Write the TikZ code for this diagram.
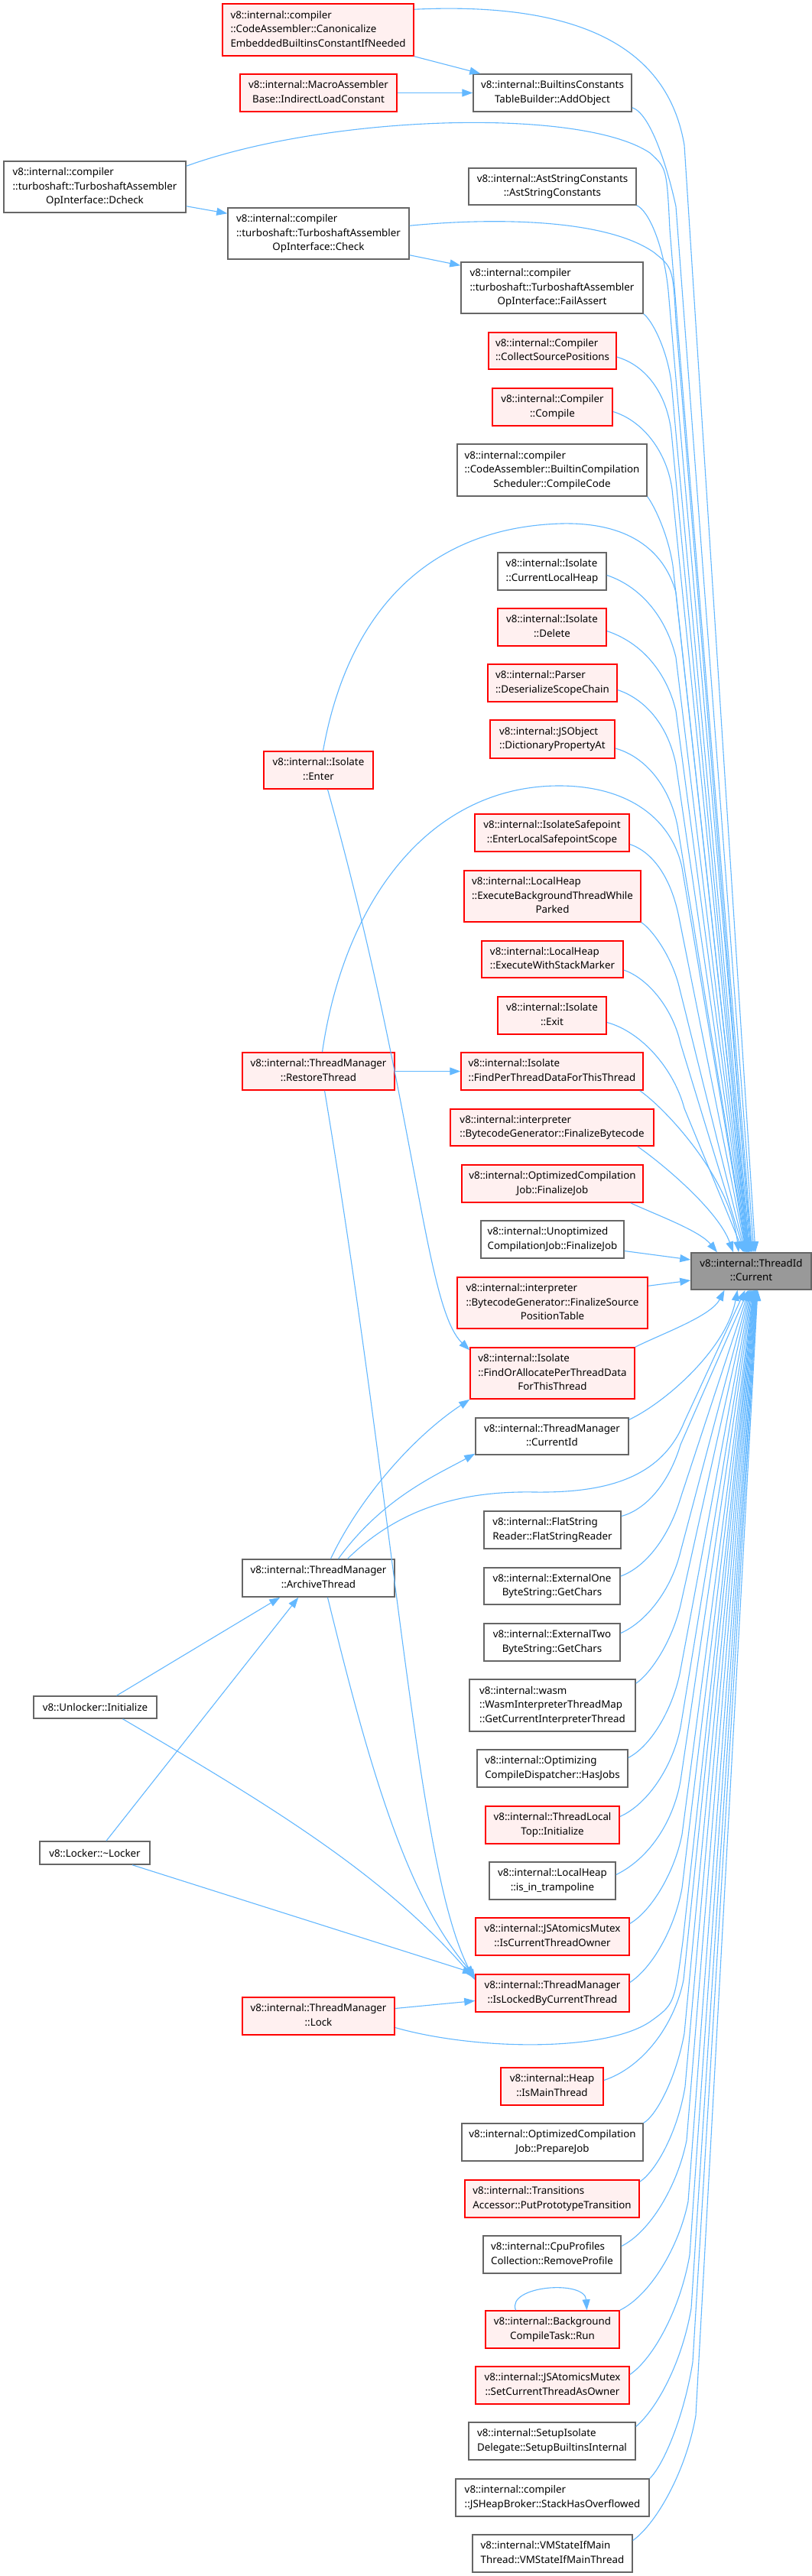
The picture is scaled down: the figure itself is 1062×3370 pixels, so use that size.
\documentclass[tikz,border=0pt]{standalone}
\usepackage{fontspec}
\setmainfont{Noto Sans}
\usetikzlibrary{arrows.meta,calc}
\definecolor{edgeblue}{HTML}{63B8FF}
\definecolor{boxred}{HTML}{FF0000}
\definecolor{boxpink}{HTML}{FFF0F0}
\definecolor{boxgray}{HTML}{666666}
\definecolor{curfill}{HTML}{999999}
\newcommand\ltwo[2]{\begin{tabular}{@{}l@{}}#1\\\multicolumn{1}{@{}c@{}}{#2}\end{tabular}}
\newcommand\lthree[3]{\begin{tabular}{@{}l@{}}#1\\#2\\\multicolumn{1}{@{}c@{}}{#3}\end{tabular}}
\tikzset{
 nbox/.style={draw, line width=1.5pt, inner sep=0pt, font=\fontsize{13.33}{18.5}\selectfont},
 wbox/.style={nbox, draw=boxgray, fill=white},
 rbox/.style={nbox, draw=boxred, fill=boxpink},
 gbox/.style={nbox, draw=boxgray, fill=curfill},
 sz/.style 2 args={minimum width=#1pt, minimum height=#2pt},
 arr/.style={draw=edgeblue, line width=1.1pt, -{Triangle[length=14pt,width=10pt]}},
}
\begin{document}
\begin{tikzpicture}[x=1pt,y=-1pt]
\useasboundingbox (0,0) rectangle (1062,3370);
\fill[white] (0,0) rectangle (1062,3370);
% nodes
\node[rbox, sz={250}{68}] (canon) at (416,39) {\lthree{v8::internal::compiler}{::CodeAssembler::Canonicalize}{EmbeddedBuiltinsConstantIfNeeded}};
\node[rbox, sz={205}{49}] (macro) at (416.5,121.5) {\ltwo{v8::internal::MacroAssembler}{Base::IndirectLoadConstant}};
\node[wbox, sz={207}{49}] (addobj) at (722.5,121.5) {\ltwo{v8::internal::BuiltinsConstants}{TableBuilder::AddObject}};
\node[wbox, sz={238}{67}] (dcheck) at (124,244.5) {\lthree{v8::internal::compiler}{::turboshaft::TurboshaftAssembler}{OpInterface::Dcheck}};
\node[wbox, sz={219}{48}] (aststr) at (722.5,244) {\ltwo{v8::internal::AstStringConstants}{::AstStringConstants}};
\node[wbox, sz={237}{67}] (check) at (416.5,305.5) {\lthree{v8::internal::compiler}{::turboshaft::TurboshaftAssembler}{OpInterface::Check}};
\node[wbox, sz={238}{67}] (failassert) at (722,376.5) {\lthree{v8::internal::compiler}{::turboshaft::TurboshaftAssembler}{OpInterface::FailAssert}};
\node[rbox, sz={167}{48}] (collect) at (722.5,459) {\ltwo{v8::internal::Compiler}{::CollectSourcePositions}};
\node[rbox, sz={157}{49}] (compile) at (722.5,532.5) {\ltwo{v8::internal::Compiler}{::Compile}};
\node[wbox, sz={248}{68}] (compilecode) at (722,615) {\lthree{v8::internal::compiler}{::CodeAssembler::BuiltinCompilation}{Scheduler::CompileCode}};
\node[wbox, sz={142}{49}] (curlocalheap) at (722,747.5) {\ltwo{v8::internal::Isolate}{::CurrentLocalHeap}};
\node[rbox, sz={142}{49}] (delete) at (722,820.5) {\ltwo{v8::internal::Isolate}{::Delete}};
\node[rbox, sz={169}{49}] (deserialize) at (722.5,893.5) {\ltwo{v8::internal::Parser}{::DeserializeScopeChain}};
\node[rbox, sz={163}{50}] (dictprop) at (722.5,967) {\ltwo{v8::internal::JSObject}{::DictionaryPropertyAt}};
\node[rbox, sz={143}{49}] (enter) at (416.5,1007.5) {\ltwo{v8::internal::Isolate}{::Enter}};
\node[rbox, sz={202}{49}] (enterlocal) at (722,1089.5) {\ltwo{v8::internal::IsolateSafepoint}{::EnterLocalSafepointScope}};
\node[rbox, sz={231}{67}] (execbg) at (722.5,1172.5) {\lthree{v8::internal::LocalHeap}{::ExecuteBackgroundThreadWhile}{Parked}};
\node[rbox, sz={185}{48}] (execstack) at (722.5,1255) {\ltwo{v8::internal::LocalHeap}{::ExecuteWithStackMarker}};
\node[rbox, sz={142}{49}] (exit) at (722,1328.5) {\ltwo{v8::internal::Isolate}{::Exit}};
\node[rbox, sz={199}{49}] (restore) at (416.5,1401.5) {\ltwo{v8::internal::ThreadManager}{::RestoreThread}};
\node[rbox, sz={238}{49}] (findper) at (722,1401.5) {\ltwo{v8::internal::Isolate}{::FindPerThreadDataForThisThread}};
\node[rbox, sz={266}{48}] (finbytecode) at (722,1475) {\ltwo{v8::internal::interpreter}{::BytecodeGenerator::FinalizeBytecode}};
\node[rbox, sz={237}{49}] (optfinal) at (722.5,1548.5) {\ltwo{v8::internal::OptimizedCompilation}{Job::FinalizeJob}};
\node[wbox, sz={187}{49}] (unopt) at (722.5,1621.5) {\ltwo{v8::internal::Unoptimized}{CompilationJob::FinalizeJob}};
\node[gbox, sz={157}{48}] (cur) at (982.5,1663) {\ltwo{v8::internal::ThreadId}{::Current}};
\node[rbox, sz={249}{67}] (finsrc) at (722.5,1704.5) {\lthree{v8::internal::interpreter}{::BytecodeGenerator::FinalizeSource}{PositionTable}};
\node[rbox, sz={215}{67}] (findoralloc) at (722.5,1796.5) {\lthree{v8::internal::Isolate}{::FindOrAllocatePerThreadData}{ForThisThread}};
\node[wbox, sz={200}{48}] (curid) at (722,1879) {\ltwo{v8::internal::ThreadManager}{::CurrentId}};
\node[wbox, sz={179}{49}] (flatstr) at (722.5,2001.5) {\ltwo{v8::internal::FlatString}{Reader::FlatStringReader}};
\node[wbox, sz={199}{49}] (archive) at (416.5,2064.5) {\ltwo{v8::internal::ThreadManager}{::ArchiveThread}};
\node[wbox, sz={178}{48}] (extone) at (722,2075) {\ltwo{v8::internal::ExternalOne}{ByteString::GetChars}};
\node[wbox, sz={178}{49}] (exttwo) at (722,2148.5) {\ltwo{v8::internal::ExternalTwo}{ByteString::GetChars}};
\node[wbox, sz={217}{68}] (wasm) at (722.5,2231) {\lthree{v8::internal::wasm}{::WasmInterpreterThreadMap}{::GetCurrentInterpreterThread}};
\node[wbox, sz={161}{29}] (unlocker) at (124.5,2233.5) {v8::Unlocker::Initialize};
\node[wbox, sz={197}{49}] (optdispatch) at (722.5,2313.5) {\ltwo{v8::internal::Optimizing}{CompileDispatcher::HasJobs}};
\node[rbox, sz={175}{49}] (tlt) at (722.5,2387.5) {\ltwo{v8::internal::ThreadLocal}{Top::Initialize}};
\node[wbox, sz={144}{30}] (locker) at (124,2424) {v8::Locker::\textasciitilde Locker};
\node[wbox, sz={165}{49}] (trampoline) at (722.5,2460.5) {\ltwo{v8::internal::LocalHeap}{::is\_in\_trampoline}};
\node[rbox, sz={201}{49}] (iscurowner) at (722.5,2533.5) {\ltwo{v8::internal::JSAtomicsMutex}{::IsCurrentThreadOwner}};
\node[rbox, sz={201}{49}] (islocked) at (722.5,2607.5) {\ltwo{v8::internal::ThreadManager}{::IsLockedByCurrentThread}};
\node[rbox, sz={199}{49}] (lock) at (416.5,2637.5) {\ltwo{v8::internal::ThreadManager}{::Lock}};
\node[rbox, sz={134}{49}] (heapmain) at (722,2729.5) {\ltwo{v8::internal::Heap}{::IsMainThread}};
\node[wbox, sz={237}{49}] (optprep) at (722.5,2802.5) {\ltwo{v8::internal::OptimizedCompilation}{Job::PrepareJob}};
\node[rbox, sz={228}{49}] (transitions) at (722,2876.5) {\ltwo{v8::internal::Transitions}{Accessor::PutPrototypeTransition}};
\node[wbox, sz={180}{49}] (cpuprof) at (722,2949.5) {\ltwo{v8::internal::CpuProfiles}{Collection::RemoveProfile}};
\node[rbox, sz={175}{49}] (bgcompile) at (722.5,3047.5) {\ltwo{v8::internal::Background}{CompileTask::Run}};
\node[rbox, sz={201}{49}] (setowner) at (722.5,3120.5) {\ltwo{v8::internal::JSAtomicsMutex}{::SetCurrentThreadAsOwner}};
\node[wbox, sz={218}{49}] (setupiso) at (722,3193.5) {\ltwo{v8::internal::SetupIsolate}{Delegate::SetupBuiltinsInternal}};
\node[wbox, sz={253}{49}] (stackoverflow) at (722.5,3267.5) {\ltwo{v8::internal::compiler}{::JSHeapBroker::StackHasOverflowed}};
\node[wbox, sz={209}{49}] (vmstate) at (722.5,3340.5) {\ltwo{v8::internal::VMStateIfMain}{Thread::VMStateIfMainThread}};
% edges into Current from above
\draw[arr] ($(canon.north east)+(0,8)$) .. controls (800,0) and (878,90) .. (895,190) -- ([xshift=5.5pt]cur.north);
\draw[arr] (macro) -- (addobj);
\draw[arr] (canon.south east) -- ($(addobj.north west)+(10,0)$);
\draw[arr] ($(addobj.south east)+(0,-6)$) .. controls (850,148) and (872,215) .. (884,270) -- ([xshift=3.5pt]cur.north);
\draw[arr] ($(dcheck.north east)+(0,7)$) .. controls (430,150) and (760,140) .. (850,200) .. controls (872,220) .. (876,300) -- ([xshift=1.5pt]cur.north);
\draw[arr] ($(dcheck.south east)+(0,-9)$) -- ($(check.north west)+(0,8)$);
\draw[arr] (aststr.south east) .. controls (848,275) and (868,320) .. (874,380) -- ([xshift=0.5pt]cur.north);
\draw[arr] ($(check.north east)+(0,24)$) .. controls (640,285) and (790,285) .. (855,330) .. controls (880,350) .. (884,420) -- ([xshift=-0.5pt]cur.north);
\draw[arr] ($(check.south east)+(0,-6)$) -- ($(failassert.north west)+(0,5)$);
\draw[arr] (failassert.south east) .. controls (852,418) and (872,455) .. (878,500) -- ([xshift=-1.5pt]cur.north);
\draw[arr] ($(collect.east)+(0,8)$) .. controls (845,478) and (872,515) .. (878,565) -- ([xshift=-2.5pt]cur.north);
\draw[arr] ($(compile.east)+(0,6)$) .. controls (840,550) and (872,590) .. (879,640) -- ([xshift=-3pt]cur.north);
\draw[arr] (compilecode.south east) .. controls (856,662) and (874,700) .. (880,740) -- ([xshift=-3.5pt]cur.north);
\draw[arr] ($(enter.north)+(6,0)$) .. controls (455,800) and (560,690) .. (734,685) .. controls (820,683) and (868,718) .. (884,775) -- ([xshift=-4pt]cur.north);
\draw[arr] ($(curlocalheap.east)+(0,5)$) .. controls (840,768) and (872,810) .. (884,860) -- ([xshift=-4.5pt]cur.north);
\draw[arr] ($(delete.east)+(0,5)$) .. controls (840,841) and (872,880) .. (884,930) -- ([xshift=-5pt]cur.north);
\draw[arr] ($(deserialize.east)+(0,9)$) .. controls (845,915) and (874,950) .. (884,1000) -- ([xshift=-5.5pt]cur.north);
\draw[arr] ($(dictprop.east)+(0,12)$) .. controls (845,990) and (876,1030) .. (886,1080) -- ([xshift=-6pt]cur.north);
\draw[arr] ($(restore.north)+(5,0)$) .. controls (450,1180) and (560,1030) .. (728,1028) .. controls (820,1027) and (878,1070) .. (892,1135) -- ([xshift=-6.5pt]cur.north);
\draw[arr] ($(enterlocal.east)+(0,15)$) .. controls (855,1115) and (878,1150) .. (888,1200) -- ([xshift=-7pt]cur.north);
\draw[arr] (execbg.south east) .. controls (852,1215) and (878,1250) .. (888,1290) -- ([xshift=-8pt]cur.north);
\draw[arr] ($(execstack.east)+(0,14)$) .. controls (848,1280) and (880,1320) .. (890,1365) -- ([xshift=-9pt]cur.north);
\draw[arr] ($(exit.east)+(0,9)$) .. controls (840,1350) and (882,1400) .. (895,1450) -- ([xshift=-10pt]cur.north);
\draw[arr] (restore) -- (findper);
\draw[arr] ($(findper.south east)+(-5,0)$) .. controls (870,1450) and (955,1540) .. ([xshift=-16.5pt]cur.north);
\draw[arr] ($(finbytecode.south east)+(-22,0)$) .. controls (870,1525) and (940,1585) .. ([xshift=-23.5pt]cur.north);
\draw[arr] ($(optfinal.south east)+(-17,0)$) .. controls (860,1590) and (915,1610) .. ([xshift=-44.5pt]cur.north);
\draw[arr] ($(unopt.east)+(0,15)$) -- ($(cur.west)+(0,-15)$);
\draw[arr] ($(finsrc.north east)+(0,12)$) -- ($(cur.west)+(0,12)$);
% left-side connectors
\draw[arr] ($(enter.south)+(12,0)$) .. controls (545,1450) and (555,1710) .. ($(findoralloc.north west)+(0,4)$);
\draw[arr] ($(restore.south)+(8,0)$) .. controls (520,2000) and (545,2450) .. ($(islocked.north west)+(0,8)$);
\draw[arr] ($(archive.north)+(16,0)$) .. controls (470,1960) and (540,1880) .. (findoralloc.south west);
\draw[arr] ($(archive.north)+(26,0)$) .. controls (500,1960) and (570,1930) .. ($(curid.south west)+(0,-2)$);
\draw[arr] ($(archive.north)+(38,0)$) .. controls (520,1975) and (600,1950) .. (700,1952) .. controls (790,1953) and (865,1935) .. (895,1860) -- ([xshift=-8pt]cur.south);
\draw[arr] ($(archive.south)+(12,0)$) .. controls (480,2300) and (530,2480) .. ($(islocked.north west)+(0,3)$);
\draw[arr] ($(unlocker.north)+(28,0)$) -- ($(archive.south west)+(50,0)$);
\draw[arr] ($(unlocker.south)+(36,0)$) .. controls (350,2360) and (500,2450) .. ($(islocked.north west)+(-2,5)$);
\draw[arr] ($(locker.north)+(15,0)$) -- ($(archive.south west)+(74,0)$);
\draw[arr] ($(locker.south)+(49,0)$) -- ($(islocked.north west)+(-2,-1)$);
\draw[arr] ($(lock.east)+(0,-10)$) -- ($(islocked.west)+(0,10)$);
\draw[arr] ($(lock.east)+(0,15)$) .. controls (620,2682) and (790,2685) .. (850,2645) .. controls (882,2622) .. (893,2540) -- ([xshift=4pt]cur.south);
% edges into Current from below
\draw[arr] (findoralloc.north east) .. controls (865,1745) and (930,1722) .. ([xshift=-35pt]cur.south);
\draw[arr] ($(curid.north east)+(0,3)$) .. controls (870,1835) and (950,1765) .. ([xshift=-18pt]cur.south);
\draw[arr] ($(flatstr.east)+(0,-18)$) .. controls (845,1975) and (875,1940) .. (890,1890) -- ([xshift=-4pt]cur.south);
\draw[arr] ($(extone.east)+(0,-13)$) .. controls (845,2050) and (875,2010) .. (890,1960) -- ([xshift=-3pt]cur.south);
\draw[arr] ($(exttwo.east)+(0,-12)$) .. controls (845,2122) and (878,2080) .. (890,2030) -- ([xshift=-2pt]cur.south);
\draw[arr] ($(wasm.north east)+(0,6)$) .. controls (850,2190) and (878,2150) .. (890,2100) -- ([xshift=-1pt]cur.south);
\draw[arr] ($(optdispatch.east)+(0,-14)$) .. controls (850,2285) and (878,2240) .. (889,2190) -- (cur.south);
\draw[arr] ($(tlt.east)+(0,-11)$) .. controls (848,2360) and (880,2310) .. (890,2260) -- ([xshift=1pt]cur.south);
\draw[arr] ($(trampoline.east)+(0,-8)$) .. controls (848,2432) and (880,2385) .. (890,2330) -- ([xshift=2pt]cur.south);
\draw[arr] ($(iscurowner.east)+(0,-17)$) .. controls (852,2500) and (882,2450) .. (892,2400) -- ([xshift=3pt]cur.south);
\draw[arr] ($(islocked.east)+(0,-14)$) .. controls (852,2575) and (882,2525) .. (892,2470) -- ([xshift=3.5pt]cur.south);
\draw[arr] ($(heapmain.east)+(0,-8)$) .. controls (840,2705) and (882,2650) .. (894,2590) -- ([xshift=4.5pt]cur.south);
\draw[arr] (optprep.north east) .. controls (858,2768) and (884,2720) .. (895,2660) -- ([xshift=5pt]cur.south);
\draw[arr] ($(transitions.north east)+(0,3)$) .. controls (858,2840) and (886,2790) .. (896,2730) -- ([xshift=5.5pt]cur.south);
\draw[arr] ($(cpuprof.east)+(0,-11)$) .. controls (850,2920) and (886,2860) .. (898,2800) -- ([xshift=6pt]cur.south);
\draw[arr] (bgcompile.north east) .. controls (850,3003) and (888,2940) .. (900,2880) -- ([xshift=6.5pt]cur.south);
\draw[arr] ($(setowner.east)+(0,-14)$) .. controls (855,3085) and (890,3020) .. (902,2950) -- ([xshift=7pt]cur.south);
\draw[arr] ($(setupiso.east)+(0,-19)$) .. controls (860,3150) and (892,3090) .. (904,3020) -- ([xshift=7.5pt]cur.south);
\draw[arr] (stackoverflow.north east) .. controls (868,3225) and (895,3160) .. (906,3090) -- ([xshift=8pt]cur.south);
\draw[arr] ($(vmstate.east)+(0,-17)$) .. controls (860,3300) and (898,3230) .. (910,3160) -- ([xshift=8.5pt]cur.south);
% self loop
\draw[arr] ($(bgcompile.north)+(-48,0)$) .. controls (662,2990) and (765,2982) .. ($(bgcompile.north)+(45,0)$);
\end{tikzpicture}
\end{document}
